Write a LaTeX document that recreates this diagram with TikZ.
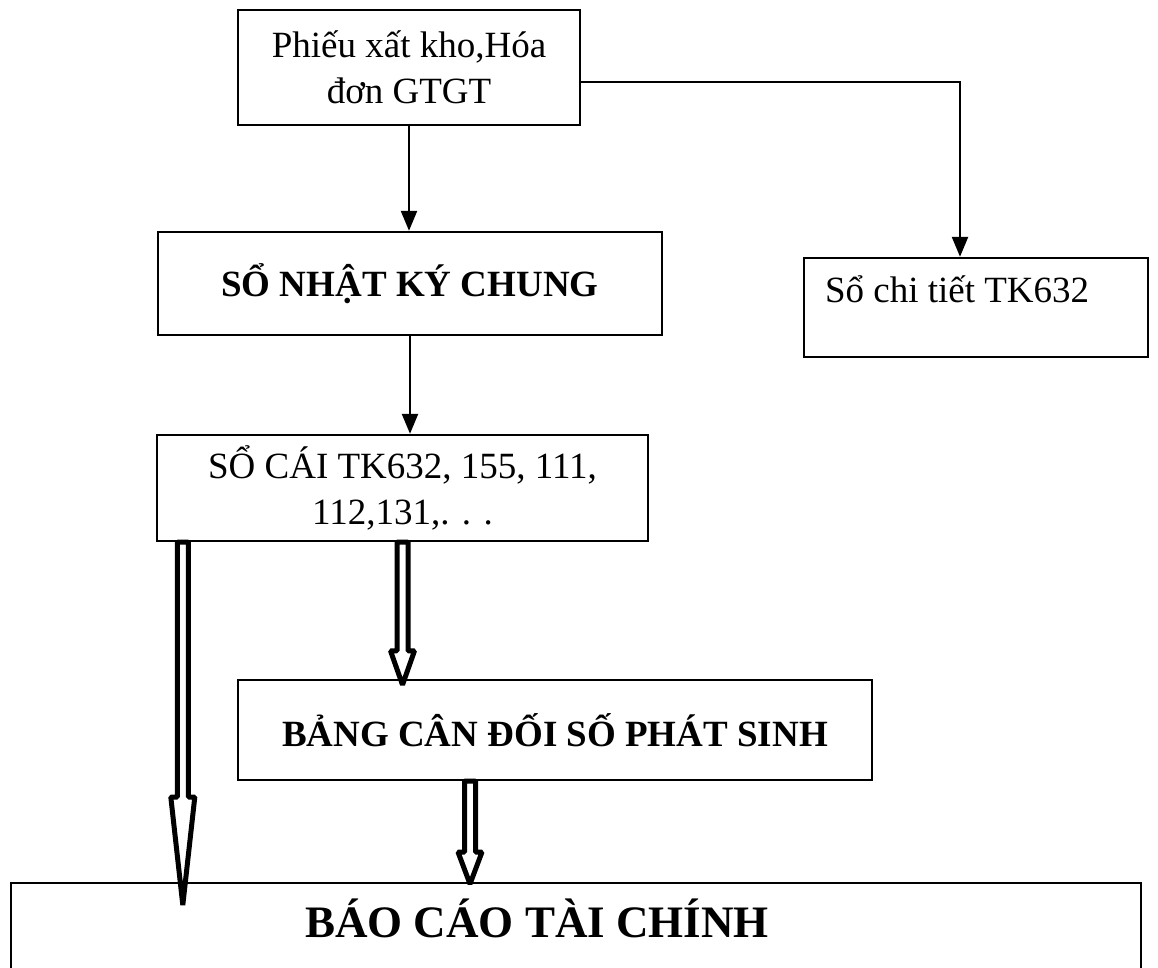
\documentclass[tikz,border=0pt]{standalone}
\usepackage{fontspec}
\setmainfont{Liberation Serif}
\usetikzlibrary{arrows.meta,calc,positioning}

% open double-line arrow from #1 down to #2, head length #3
\newcommand{\hollowarrow}[3]{%
  \draw[hollow] let \p1=(#1), \p2=(#2) in
    (\x1-5.5pt,\y1) -- (\x1-5.5pt,\y2+#3) -- (\x1-12pt,\y2+#3) -- (\x1,\y2)
    -- (\x1+12pt,\y2+#3) -- (\x1+5.5pt,\y2+#3) -- (\x1+5.5pt,\y1) -- cycle;}

\begin{document}
\begin{tikzpicture}[x=1pt, y=-1pt,
  box/.style={draw=black, line width=2.4pt, inner sep=0pt, align=center, font=\fontsize{37}{46}\selectfont},
  boldbox/.style={box, font=\fontsize{37}{46}\selectfont\bfseries},
  arrow/.style={-{Triangle[length=20pt,width=16pt]}, line width=2.4pt},
  hollow/.style={draw=black, fill=white, line width=5pt, line join=bevel}
]
  \useasboundingbox (0,0) rectangle (1158,967);

  % boxes
  \node[box, minimum width=342pt, minimum height=115pt] (src) at (409,67.5) {Phiếu xất kho,Hóa\\đơn GTGT};
  \node[boldbox, minimum width=504pt, minimum height=103pt] (nkc) at (410,283.5) {SỔ NHẬT KÝ CHUNG};
  \node[box, minimum width=344pt, minimum height=99pt, text width=302pt, align=flush left, text height=33pt, text depth=44pt] (chitiet) at (976,307.5) {Sổ chi tiết TK632};
  \node[box, minimum width=491pt, minimum height=106pt] (socai) at (402.5,488) {SỔ CÁI TK632, 155, 111,\\112,131,. . .};
  \node[boldbox, minimum width=634pt, minimum height=100pt] (bang) at (555,730) {BẢNG CÂN ĐỐI SỐ PHÁT SINH};
  \node[box, minimum width=1130pt, minimum height=130pt, anchor=north west] (bctc) at (10,882) {};
  \node[font=\fontsize{45}{54}\selectfont\bfseries] (bctctxt) at (537,918) {BÁO CÁO TÀI CHÍNH};

  % single arrows
  \draw[arrow] (src.south) -- (src.south |- nkc.north);
  \draw[arrow] ([yshift=-14.5pt]src.east) -| ([xshift=-16pt]chitiet.north);
  \draw[arrow] (nkc.south) -- (nkc.south |- socai.north);

  % double arrows
  \coordinate (lefttop) at ([xshift=27pt]socai.south west);
  \coordinate (lefttip) at ($(lefttop |- bctc.north)+(0,23)$);
  \coordinate (midtop) at (socai.south);
  \coordinate (midtip) at ($(midtop |- bang.north)+(0,6)$);
  \coordinate (righttop) at ([xshift=-85pt]bang.south);
  \coordinate (righttip) at ($(righttop |- bctc.north)+(0,2)$);
  \hollowarrow{lefttop}{lefttip}{108pt}
  \hollowarrow{midtop}{midtip}{34pt}
  \hollowarrow{righttop}{righttip}{32pt}
\end{tikzpicture}
\end{document}
